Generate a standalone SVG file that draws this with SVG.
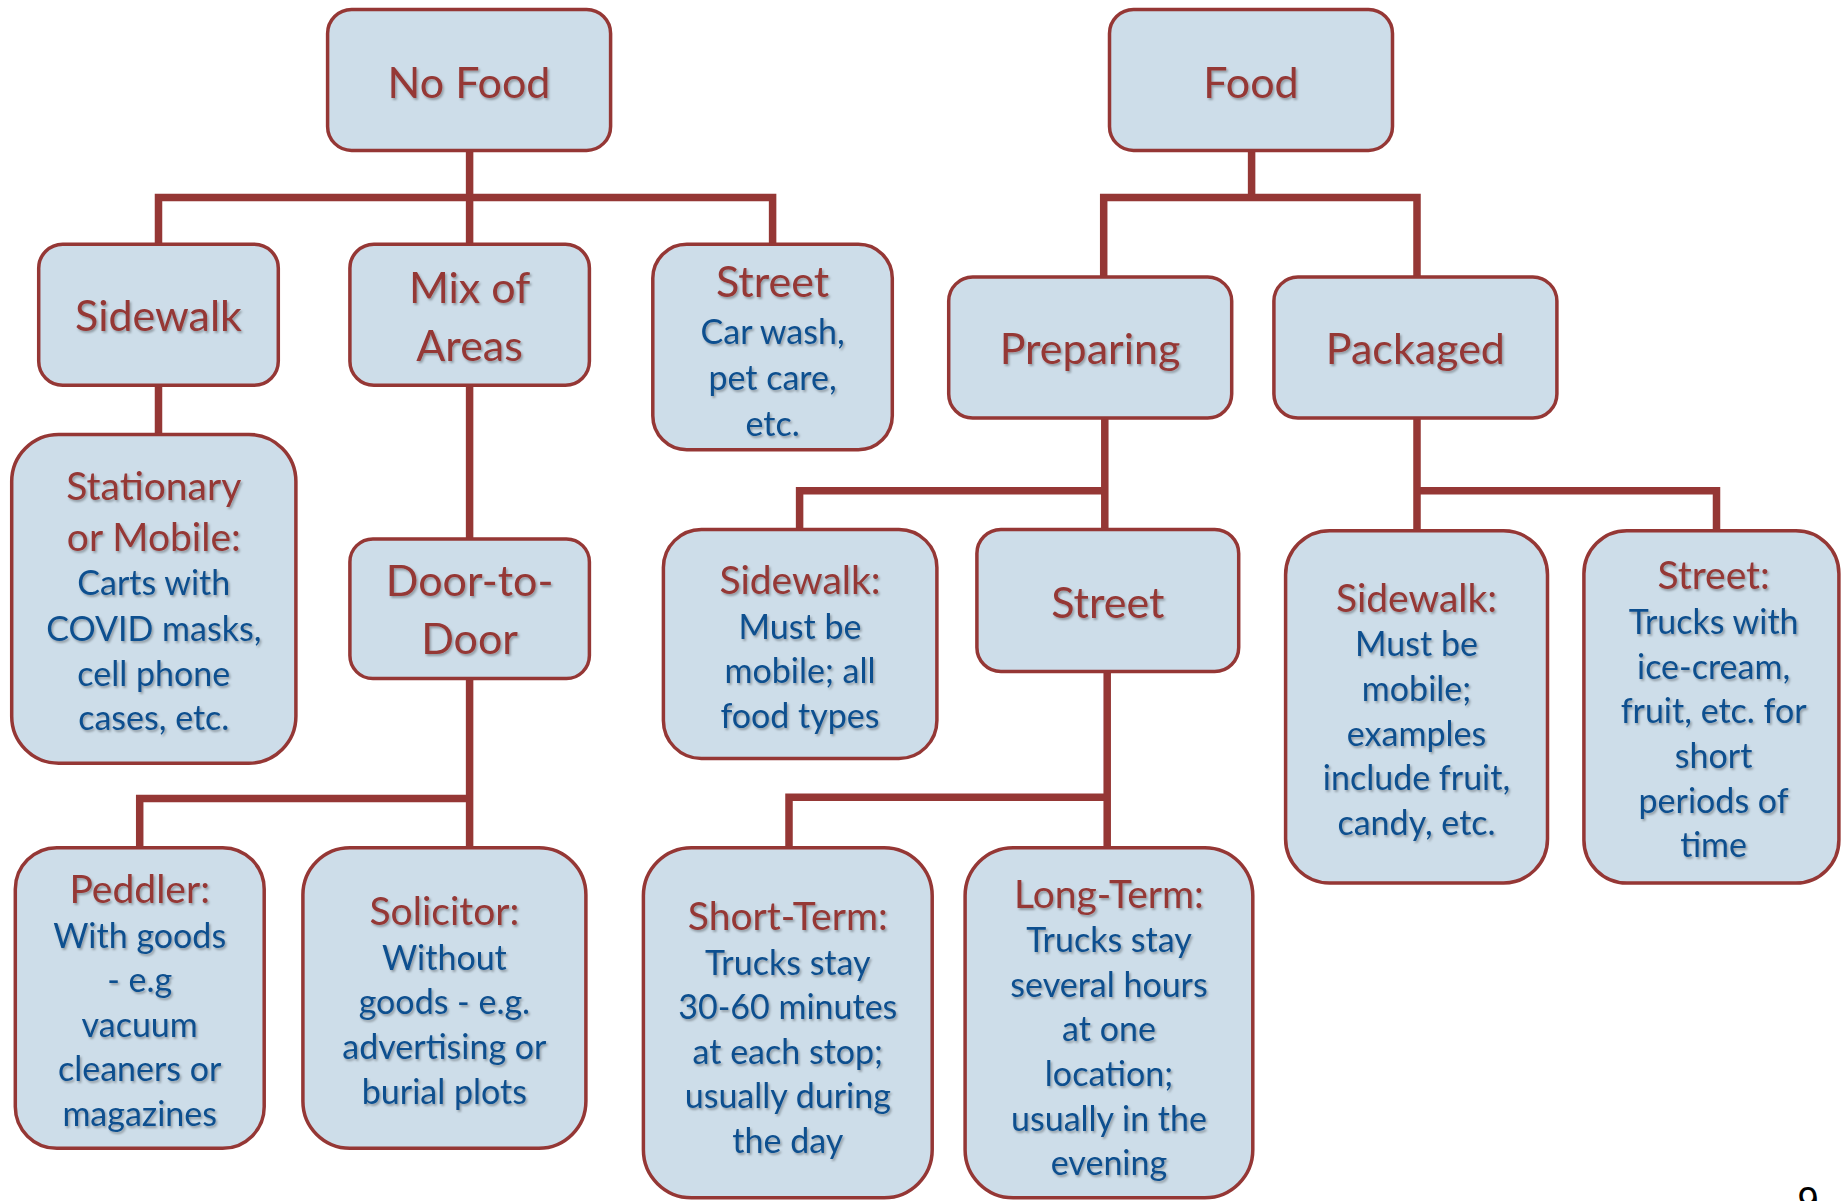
<svg xmlns="http://www.w3.org/2000/svg" width="1841" height="1201" viewBox="0 0 1841 1201">
<defs>
<filter id="ts" x="-10%" y="-10%" width="120%" height="130%">
<feDropShadow dx="1.5" dy="2" stdDeviation="1.2" flood-color="#000" flood-opacity="0.3"/>
</filter>
<style>
.box{fill:#cddde9;stroke:#953735;stroke-width:3.5}
.con{stroke:#953735;stroke-width:7.5;fill:none;stroke-linecap:square}
text{font-family:Lato,"Open Sans","Liberation Sans",sans-serif;text-anchor:middle;filter:url(#ts)}
.t{fill:#953735;font-size:43px}
.s{fill:#953735;font-size:39px}
.b{fill:#11508f;font-size:34px}
.pg{fill:#000;font-size:38px;filter:none;font-family:"Liberation Sans",sans-serif}
</style>
</defs>
<rect width="1841" height="1201" fill="#fff"/>
<g id="connectors">
<path class="con" d="M469.6 150V197.5M158.5 244V197.5H772.6V244M469.6 197.5V244"/>
<path class="con" d="M1251.6 150V197.5M1103.7 277V197.5H1417V277"/>
<path class="con" d="M158.5 385V434"/>
<path class="con" d="M469.6 385V539"/>
<path class="con" d="M469.6 678V798.5H139.7V848M469.6 798.5V848"/>
<path class="con" d="M1104.8 418V529.5M1104.8 490.8H799.6V529.5"/>
<path class="con" d="M1107.2 671.6V847.7M1107.2 797.2H789V847.7"/>
<path class="con" d="M1417 418V530.7M1417 490.8H1716.5V530.7"/>
</g>
<g id="n-nofood"><rect class="box" x="327.6" y="9.4" width="283" height="141" rx="24"/><text class="t" x="469" y="98">No Food</text></g>
<g id="n-food"><rect class="box" x="1109.5" y="9.4" width="283" height="141" rx="24"/><text class="t" x="1251" y="98">Food</text></g>
<g id="n-sidewalk"><rect class="box" x="38.7" y="244.2" width="239.6" height="141" rx="24"/><text class="t" x="158.5" y="331">Sidewalk</text></g>
<g id="n-mix"><rect class="box" x="349.9" y="244.2" width="239.5" height="141" rx="24"/><text class="t" x="469.6" y="303">Mix of</text><text class="t" x="469.6" y="360.5">Areas</text></g>
<g id="n-street1"><rect class="box" x="652.8" y="244.2" width="239.5" height="205.5" rx="34"/><text class="t" x="772.6" y="297">Street</text><text class="b" x="772.6" y="344">Car wash,</text><text class="b" x="772.6" y="390">pet care,</text><text class="b" x="772.6" y="435.6">etc.</text></g>
<g id="n-preparing"><rect class="box" x="948.7" y="277.1" width="283" height="141" rx="24"/><text class="t" x="1090" y="364">Preparing</text></g>
<g id="n-packaged"><rect class="box" x="1273.9" y="277.1" width="283" height="141" rx="24"/><text class="t" x="1415.4" y="364">Packaged</text></g>
<g id="n-stationary"><rect class="box" x="11.7" y="434.4" width="284.2" height="328.8" rx="47"/><text class="s" x="153.8" y="500">Stationary</text><text class="s" x="153.8" y="550.7">or Mobile:</text><text class="b" x="153.8" y="595">Carts with</text><text class="b" x="153.8" y="641">COVID masks,</text><text class="b" x="153.8" y="685.7">cell phone</text><text class="b" x="153.8" y="730">cases, etc.</text></g>
<g id="n-door"><rect class="box" x="349.9" y="538.9" width="239.5" height="139.7" rx="23"/><text class="t" x="469.6" y="596.4">Door-to-</text><text class="t" x="469.6" y="654">Door</text></g>
<g id="n-peddler"><rect class="box" x="15.3" y="847.7" width="248.9" height="300.6" rx="41.5"/><text class="s" x="139.7" y="903">Peddler:</text><text class="b" x="139.7" y="947.5">With goods</text><text class="b" x="139.7" y="992">- e.g</text><text class="b" x="139.7" y="1036.7">vacuum</text><text class="b" x="139.7" y="1081">cleaners or</text><text class="b" x="139.7" y="1126">magazines</text></g>
<g id="n-solicitor"><rect class="box" x="302.9" y="847.7" width="283" height="300.6" rx="47"/><text class="s" x="444.4" y="925">Solicitor:</text><text class="b" x="444.4" y="970">Without</text><text class="b" x="444.4" y="1014.4">goods - e.g.</text><text class="b" x="444.4" y="1059">advertising or</text><text class="b" x="444.4" y="1103.6">burial plots</text></g>
<g id="n-sidewalk2"><rect class="box" x="663.4" y="529.5" width="273.5" height="229" rx="38"/><text class="s" x="800" y="594">Sidewalk:</text><text class="b" x="800" y="638.7">Must be</text><text class="b" x="800" y="683.3">mobile; all</text><text class="b" x="800" y="728">food types</text></g>
<g id="n-street2"><rect class="box" x="976.9" y="529.5" width="261.8" height="142.1" rx="24"/><text class="t" x="1107.8" y="617.6">Street</text></g>
<g id="n-short"><rect class="box" x="643.4" y="847.7" width="288.8" height="350" rx="48"/><text class="s" x="787.8" y="930">Short-Term:</text><text class="b" x="787.8" y="974.5">Trucks stay</text><text class="b" x="787.8" y="1019">30-60 minutes</text><text class="b" x="787.8" y="1063.7">at each stop;</text><text class="b" x="787.8" y="1108.4">usually during</text><text class="b" x="787.8" y="1153">the day</text></g>
<g id="n-long"><rect class="box" x="965.1" y="847.7" width="287.7" height="350" rx="48"/><text class="s" x="1109" y="907.6">Long-Term:</text><text class="b" x="1109" y="952">Trucks stay</text><text class="b" x="1109" y="996.8">several hours</text><text class="b" x="1109" y="1041.4">at one</text><text class="b" x="1109" y="1086">location;</text><text class="b" x="1109" y="1130.7">usually in the</text><text class="b" x="1109" y="1175.3">evening</text></g>
<g id="n-sidewalk3"><rect class="box" x="1285.6" y="530.7" width="261.9" height="352.3" rx="44"/><text class="s" x="1416.5" y="611.7">Sidewalk:</text><text class="b" x="1416.5" y="656.3">Must be</text><text class="b" x="1416.5" y="701">mobile;</text><text class="b" x="1416.5" y="745.6">examples</text><text class="b" x="1416.5" y="790">include fruit,</text><text class="b" x="1416.5" y="834.8">candy, etc.</text></g>
<g id="n-street3"><rect class="box" x="1583.9" y="530.7" width="255" height="352.3" rx="43"/><text class="s" x="1713.6" y="589.4">Street:</text><text class="b" x="1713.6" y="634">Trucks with</text><text class="b" x="1713.6" y="678.6">ice-cream,</text><text class="b" x="1713.6" y="723.2">fruit, etc. for</text><text class="b" x="1713.6" y="767.9">short</text><text class="b" x="1713.6" y="812.5">periods of</text><text class="b" x="1713.6" y="857">time</text></g>
<text class="pg" x="1808" y="1214">9</text>
</svg>
